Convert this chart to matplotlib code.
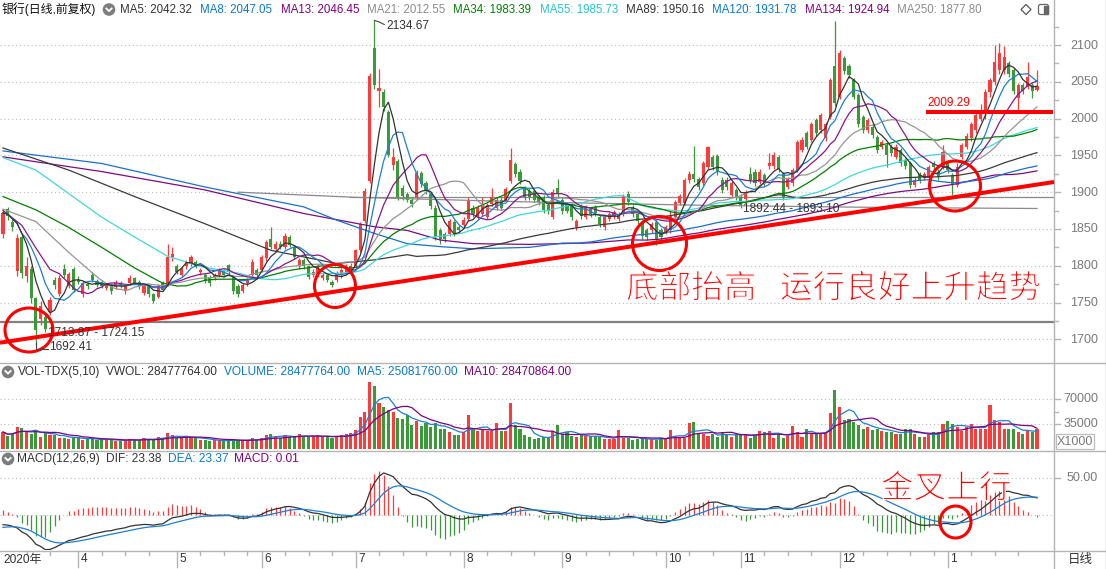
import numpy as np
import pandas as pd
import matplotlib
matplotlib.use("Agg")
import matplotlib.pyplot as plt
import matplotlib.patheffects as pe
from matplotlib.patches import Ellipse, Circle, FancyBboxPatch, Rectangle, Polygon

plt.rcParams['font.family'] = ['Liberation Sans', 'Noto Sans CJK SC', 'DejaVu Sans']

# ---------------- data ----------------
opens = [1843,1877,1860,1793,1839,1786,1796,1756,1728,1731,
         1737,1780,1762,1796,1773,1796,1781,1761,1775,1788,
         1779,1778,1770,1772,1771,1777,1765,1776,1783,1778,
         1763,1772,1761,1758,1776,1774,1812,1799,1788,1799,
         1803,1805,1791,1788,1785,1783,1787,1793,1801,1785,
         1772,1766,1776,1788,1794,1794,1810,1837,1823,1830,
         1826,1839,1826,1799,1808,1799,1788,1788,1783,1787,
         1778,1781,1787,1791,1793,1799,1821,1861,1915,2096,
         2037,2036,2009,1937,1942,1905,1897,1890,1893,1926,
         1912,1897,1879,1848,1843,1843,1859,1852,1855,1864,
         1879,1866,1870,1866,1884,1879,1890,1890,1915,1938,
         1928,1905,1902,1901,1893,1893,1882,1866,1906,1890,
         1884,1882,1852,1881,1866,1877,1880,1866,1852,1864,
         1866,1864,1870,1897,1879,1870,1859,1848,1848,1859,
         1848,1846,1848,1866,1885,1885,1916,1925,1918,1912,
         1934,1948,1949,1917,1917,1896,1903,1894,1891,1925,
         1928,1914,1923,1935,1935,1948,1925,1907,1912,1930,
         1957,1980,1971,1998,1984,1973,2002,2071,2030,2082,
         2071,2052,2032,2002,1984,1989,1975,1962,1964,1962,
         1948,1957,1944,1939,1910,1925,1919,1921,1939,1928,
         1934,1941,1923,1910,1948,1962,1973,1984,2000,2007,
         2036,2050,2066,2066,2075,2066,2028,2046,2043,2046,
         2039]
closes = [1872,1868,1852,1838,1790,1800,1756,1712,1745,1714,
          1753,1774,1784,1787,1789,1767,1778,1776,1772,1781,
          1774,1773,1774,1765,1777,1773,1772,1784,1777,1772,
          1772,1761,1752,1772,1767,1812,1816,1792,1796,1805,
          1812,1799,1794,1779,1776,1787,1794,1788,1792,1765,
          1761,1774,1781,1805,1788,1812,1832,1826,1830,1826,
          1841,1828,1812,1808,1799,1785,1792,1799,1787,1781,
          1774,1790,1794,1798,1800,1821,1857,1902,2058,2045,
          2041,2016,1951,1948,1893,1895,1890,1884,1926,1911,
          1902,1881,1839,1837,1836,1861,1843,1848,1862,1890,
          1870,1879,1884,1882,1893,1890,1879,1904,1944,1925,
          1915,1893,1893,1890,1886,1876,1874,1900,1897,1874,
          1875,1866,1861,1868,1879,1870,1871,1857,1866,1870,
          1873,1870,1895,1886,1870,1861,1841,1839,1857,1837,
          1839,1853,1868,1887,1895,1916,1925,1918,1907,1939,
          1961,1934,1928,1903,1907,1912,1894,1882,1900,1916,
          1912,1928,1912,1939,1950,1932,1894,1918,1930,1968,
          1971,1962,1993,1980,2005,1993,2052,2021,2089,2064,
          2059,2030,1993,1984,1998,1978,1957,1968,1950,1953,
          1962,1939,1935,1910,1917,1916,1925,1934,1934,1921,
          1955,1930,1910,1934,1964,1977,1993,2005,2010,2036,
          2052,2077,2089,2084,2061,2037,2046,2037,2057,2037,
          2044]
highs = [1876,1880,1863,1843,1842,1812,1799,1758,1752,1736,
         1757,1785,1788,1803,1791,1798,1786,1779,1778,1791,
         1782,1780,1777,1775,1780,1779,1774,1787,1785,1780,
         1774,1774,1763,1775,1779,1830,1826,1803,1799,1808,
         1815,1808,1797,1790,1787,1790,1797,1796,1803,1788,
         1775,1777,1784,1809,1797,1815,1835,1852,1833,1833,
         1844,1842,1828,1811,1810,1801,1795,1802,1790,1789,
         1780,1793,1797,1802,1804,1823,1860,1905,2062,2134.67,
         2068,2040,2012,1960,1945,1910,1900,1893,1930,1929,
         1915,1900,1882,1851,1846,1864,1862,1855,1866,1893,
         1882,1882,1893,1885,1906,1893,1893,1907,1960,1941,
         1931,1908,1905,1904,1896,1896,1885,1904,1918,1893,
         1887,1885,1864,1884,1882,1880,1883,1869,1869,1873,
         1876,1873,1898,1902,1882,1873,1862,1851,1860,1862,
         1851,1856,1875,1890,1898,1919,1929,1963,1921,1942,
         1963,1951,1952,1920,1920,1915,1906,1897,1903,1934,
         1931,1931,1926,1953,1955,1951,1928,1921,1933,1971,
         1975,1983,1996,2001,2008,1996,2055,2132,2093,2085,
         2074,2055,2035,2005,2001,1992,1978,1971,1967,1965,
         1965,1960,1947,1942,1920,1928,1928,1937,1942,1931,
         1964,1944,1926,1940,1967,1980,1996,2008,2020,2040,
         2055,2100,2103,2098,2078,2069,2049,2049,2077,2049,
         2066]
lows = [1838,1862,1847,1786,1784,1778,1750,1692.41,1720,1710,
        1733,1769,1759,1784,1770,1764,1775,1757,1768,1778,
        1771,1770,1767,1762,1769,1770,1762,1774,1775,1769,
        1760,1758,1749,1756,1765,1772,1806,1789,1785,1796,
        1800,1797,1788,1776,1773,1780,1785,1785,1789,1762,
        1757,1763,1773,1786,1785,1791,1807,1823,1820,1823,
        1823,1825,1809,1796,1796,1782,1785,1785,1780,1778,
        1771,1778,1784,1788,1790,1796,1818,1858,1912,2040,
        2016,2010,1948,1930,1889,1890,1886,1880,1890,1907,
        1898,1877,1835,1830,1832,1840,1840,1844,1852,1861,
        1866,1863,1867,1863,1881,1876,1876,1887,1912,1921,
        1911,1889,1889,1886,1882,1872,1870,1863,1893,1870,
        1871,1862,1849,1864,1863,1866,1868,1853,1849,1861,
        1863,1861,1867,1882,1866,1857,1837,1835,1845,1828,
        1835,1843,1845,1863,1882,1882,1912,1914,1903,1909,
        1931,1930,1924,1899,1903,1893,1890,1878,1888,1912,
        1908,1911,1908,1932,1932,1928,1890,1904,1909,1927,
        1954,1958,1968,1976,1981,1970,1999,2017,2026,2060,
        2055,2026,1989,1980,1981,1974,1953,1959,1934,1949,
        1945,1935,1931,1906,1907,1912,1916,1918,1930,1917,
        1931,1926,1896,1907,1945,1959,1970,1981,1997,2000,
        2030,2045,2060,2060,2057,2033,2007,2033,2040,2028,
        2037]
# volume, unit: 1000 shares
volumes = [23900,17800,21600,31000,29200,23900,20600,27300,16800,23900,
           19200,19200,15900,15900,14500,15900,16800,12100,13500,14500,
           13000,12500,14000,12500,11500,11000,12000,14500,13000,12000,
           15500,14500,13000,17000,15000,22000,19500,16000,15000,16500,
           17000,15500,13000,12500,11500,12000,11000,11500,12500,14000,
           12000,11500,12000,15500,13000,16000,19000,20500,17500,16000,
           19000,17500,16500,21000,16500,17500,18500,19000,17000,16500,
           15500,18500,19500,21000,22500,27300,45300,52400,93700,88900,
           64300,59500,54800,52000,42900,41500,47600,33500,39100,32200,
           35800,31000,35800,28700,28700,24000,19200,20000,24000,47700,
           27700,25300,27700,25300,25300,35800,24900,25300,64300,33500,
           27700,19200,16800,14500,15900,16800,15900,25300,33500,21600,
           23900,17800,16800,19200,17800,17800,17800,16800,13500,13500,
           14500,26300,15900,15900,12100,13500,15900,13500,13500,12100,
           15900,15900,27300,17800,15900,15900,36700,38200,20600,20600,
           17800,21600,16800,23900,20600,16800,20600,20600,20600,15900,
           19200,25300,23900,25300,15900,20600,15900,18200,32000,23900,
           16800,28700,22500,20600,20600,22500,51000,83200,58600,40600,
           41500,38200,33500,28700,31000,27300,28700,25300,23900,23900,
           20600,20600,27700,27700,21600,16800,16800,20600,23900,23900,
           34800,39100,34800,31000,25300,31000,34800,28700,28700,28700,
           61900,40600,38200,28700,28700,28700,23900,21600,27300,23900,
           28478]

month_start_idx = [16, 37, 55, 75, 98, 119, 141, 157, 178, 201]
month_labels = ['4', '5', '6', '7', '8', '9', '10', '11', '12', '1']
first_label = '2020年'

# early parts of the moving averages (history before the window)
ma13_head = [(0, 1875), (4, 1855), (7, 1824), (10, 1795)]
ma21_head = [(0, 1877), (7, 1860), (14, 1818)]
ma34_head = [(0, 1894), (7, 1876), (14, 1852), (21, 1825), (28, 1797)]
ma55_head = [(0, 1947), (7, 1930), (14, 1898), (21, 1866), (28, 1839), (35, 1813), (42, 1799), (50, 1790)]
ma89_head = [(0, 1960), (14, 1930), (28, 1894), (43, 1857), (57, 1821), (64, 1812), (71, 1803), (79, 1808), (86, 1815)]
ma120_head = [(0, 1956), (21, 1939), (43, 1907), (64, 1880), (71, 1862), (79, 1844), (86, 1830), (93, 1826), (100, 1823), (112, 1825)]
ma134_head = [(0, 1948), (21, 1928), (43, 1903), (64, 1871), (79, 1853), (86, 1848), (93, 1835), (100, 1830), (112, 1829), (125, 1831)]
ma250_pts = [(50, 1900), (75, 1893), (110, 1887), (150, 1882), (190, 1879), (220, 1877.8)]
macd_seed = dict(ema12=1889.0, ema26=1901.0, dea=-17.0)

price_ticks = [1700, 1750, 1800, 1850, 1900, 1950, 2000, 2050, 2100]
vol_ticks = [35000, 70000]
macd_ticks = [0, 50]

header_items = [
    ("MA5: 2042.32", "#333333"), ("MA8: 2047.05", "#0a78d2"), ("MA13: 2046.45", "#800080"),
    ("MA21: 2012.55", "#8c8c8c"), ("MA34: 1983.39", "#008000"), ("MA55: 1985.73", "#22c8c8"),
    ("MA89: 1950.16", "#333333"), ("MA120: 1931.78", "#0a78d2"), ("MA134: 1924.94", "#800080"),
    ("MA250: 1877.80", "#8c8c8c")]
vol_header = [("VOL-TDX(5,10)", "#333333"), ("VWOL: 28477764.00", "#333333"),
              ("VOLUME: 28477764.00", "#0a78d2"), ("MA5: 25081760.00", "#0a78d2"),
              ("MA10: 28470864.00", "#800080")]
macd_header = [("MACD(12,26,9)", "#333333"), ("DIF: 23.38", "#333333"),
               ("DEA: 23.37", "#0a78d2"), ("MACD: 0.01", "#800080")]

# ---------------- layout ----------------
W, H, DPI = 1106, 569, 100
RED, GREEN = '#fe3b3b', '#3a9a3a'
X0PX, STEP, PLOT_R = 3.0, 4.7, 1054
P_Y0, P_REF, P_SCALE = 45.0, 2100.0, 0.7358
V_ZERO, V_SCALE = 449.0, 25.0 / 35000
M_ZERO, M_SCALE = 515.3, 0.752

N = len(closes)
o = np.array(opens, float); c = np.array(closes, float)
h = np.maximum(np.array(highs, float), np.maximum(o, c))
l = np.minimum(np.array(lows, float), np.minimum(o, c))
v = np.array(volumes, float)
idx = np.arange(N)
up = c >= o
col = np.where(up, RED, GREEN)

fig = plt.figure(figsize=(W / DPI, H / DPI), dpi=DPI)
fig.patch.set_facecolor('white')


def add_ax(x0, y0, x1, y1, **kw):
    ax = fig.add_axes([x0 / W, 1 - y1 / H, (x1 - x0) / W, (y1 - y0) / H], **kw)
    ax.axis('off')
    ax.set_xlim(-X0PX / STEP, (PLOT_R - X0PX) / STEP)
    return ax


def price_y(p):
    return P_Y0 + (P_REF - p) * P_SCALE


def price_at(y):
    return P_REF - (y - P_Y0) / P_SCALE


# ---------------- price panel ----------------
axp = add_ax(0, 20, PLOT_R, 362)
axp.set_ylim(price_at(362), price_at(20))
for p in price_ticks:
    axp.axhline(p, color='#bdbdbd', lw=0.8, ls=(0, (1, 2.5)), zorder=1)
axp.axhline(1723.6, color='#808080', lw=1.6, zorder=2)
axp.plot([(350 - X0PX) / STEP, (PLOT_R - X0PX) / STEP], [1893, 1893], color='#8a8a8a', lw=0.9, zorder=2)

axp.vlines(idx, l, h, colors=col, lw=0.9, zorder=3)
axp.bar(idx, np.maximum(np.abs(c - o), 0.8), bottom=np.minimum(o, c), width=0.66,
        color=col, lw=0, zorder=4)

cs = pd.Series(c)


def ma_line(w, head=None, minp=None):
    roll = cs.rolling(w, min_periods=minp or w).mean().to_numpy()
    xs, ys = [], []
    if head:
        for i, val in head:
            if i < w - 1:
                xs.append(i); ys.append(val)
    start = 0 if minp else w - 1
    for i in range(start, N):
        xs.append(i); ys.append(roll[i])
    return xs, ys


ma_specs = [
    (250, None, '#8a8a8a'), (134, ma134_head, '#7d0b80'), (120, ma120_head, '#1a6fd0'),
    (89, ma89_head, '#3a3a3a'), (55, ma55_head, '#3fd8d8'), (34, ma34_head, '#008000'),
    (21, ma21_head, '#959595'), (13, ma13_head, '#8a168a'), (8, None, '#1c7fd6'), (5, None, '#333333')]
for w, head, colr in ma_specs:
    if w == 250:
        xs = [p[0] for p in ma250_pts]; ys = [p[1] for p in ma250_pts]
    elif head is None:
        xs, ys = ma_line(w, minp=1)
    else:
        xs, ys = ma_line(w, head)
    axp.plot(xs, ys, color=colr, lw=0.9, zorder=5)

# ---------------- volume panel ----------------
axv = add_ax(0, 363, PLOT_R, 450)
axv.set_ylim(-(450 - V_ZERO) / V_SCALE, (V_ZERO - 363) / V_SCALE)
for t in vol_ticks:
    axv.axhline(t, color='#bdbdbd', lw=0.8, ls=(0, (1, 2.5)), zorder=1)
axv.bar(idx, v, width=0.66, color=col, lw=0, zorder=3)
vs = pd.Series(v)
axv.plot(idx, vs.rolling(5, min_periods=1).mean(), color='#1c7fd6', lw=0.9, zorder=4)
axv.plot(idx, vs.rolling(10, min_periods=1).mean(), color='#800080', lw=0.9, zorder=4)

# ---------------- MACD panel ----------------
axm = add_ax(0, 451, PLOT_R, 550)
axm.set_ylim(-(550 - M_ZERO) / M_SCALE, (M_ZERO - 451) / M_SCALE)
for t in macd_ticks:
    axm.axhline(t, color='#bdbdbd', lw=0.8, ls=(0, (1, 2.5)), zorder=1)
e12, e26, dea = macd_seed['ema12'], macd_seed['ema26'], macd_seed['dea']
difs, deas = [], []
for cl in c:
    e12 = e12 * 11 / 13 + cl * 2 / 13
    e26 = e26 * 25 / 27 + cl * 2 / 27
    d = e12 - e26
    dea = dea * 0.8 + d * 0.2
    difs.append(d); deas.append(dea)
difs = np.array(difs); deas = np.array(deas)
hist = 2 * (difs - deas)
axm.vlines(idx, 0, hist, colors=np.where(hist >= 0, RED, GREEN), lw=0.9, zorder=2)
axm.plot(idx, difs, color='#333333', lw=0.9, zorder=3)
axm.plot(idx, deas, color='#1c7fd6', lw=0.9, zorder=3)

# ---------------- overlay (frame, labels, annotations) ----------------
ov = fig.add_axes([0, 0, 1, 1], zorder=10)
ov.set_xlim(0, W); ov.set_ylim(H, 0); ov.axis('off'); ov.patch.set_alpha(0)

line_c = '#b4b4b4'
for yy in (362.5, 450.5, 550.5):
    ov.plot([0, W], [yy, yy], color=line_c, lw=1)
ov.plot([1054, 1054], [0, H], color=line_c, lw=1)
ov.plot([1105.5, 1105.5], [0, H], color=line_c, lw=1)

FS = 8.6


def icon(x, y):
    ov.add_patch(Circle((x, y), 5.6, color='#7d7d7d', zorder=11))
    ov.plot([x - 2.6, x, x + 2.6], [y - 1.0, y + 1.6, y - 1.0], color='white', lw=1.3, zorder=12)


# price header: items laid out left to right, evenly spaced between 120.5 and 982 px
ov.text(1.5, 9.5, '银行(日线,前复权)', fontsize=FS, color='#111111', va='center', ha='left')
icon(109, 9.5)
renderer = fig.canvas.get_renderer()
h_texts = [ov.text(0, 9.5, txt, fontsize=8.3, color=cc, va='center', ha='left')
           for txt, cc in header_items]
h_w = [t.get_window_extent(renderer).width for t in h_texts]
HX0, HX1 = 120.5, 982.0
gap = (HX1 - HX0 - sum(h_w)) / (len(h_w) - 1)
xx = HX0
for t, wd in zip(h_texts, h_w):
    t.set_x(xx)
    xx += wd + gap
ov.add_patch(Polygon([[1026, 4.5], [1031, 9.5], [1026, 14.5], [1021, 9.5]], closed=True,
                     fill=False, ec='#555555', lw=0.9))
ov.add_patch(FancyBboxPatch((1038.5, 4.5), 10, 10, boxstyle='round,pad=0,rounding_size=2',
                            fill=False, ec='#666666', lw=0.9))
ov.add_patch(Rectangle((1043.5, 5.5), 4, 8, color='#666666'))

# volume header
icon(8, 372)
for (txt, cc), xx in zip(vol_header, [17.5, 106.5, 224, 357, 464]):
    ov.text(xx, 372, txt, fontsize=FS, color=cc, va='center', ha='left')
# macd header
icon(8, 459)
for (txt, cc), xx in zip(macd_header, [17.5, 106.5, 168, 234]):
    ov.text(xx, 459, txt, fontsize=FS, color=cc, va='center', ha='left')

# right price axis
for p in price_ticks:
    yy = price_y(p)
    ov.plot([1054, 1060], [yy, yy], color=line_c, lw=1)
    ov.text(1098, yy + 0.5, f'{p}', fontsize=9, color='#7a7a7a', va='center', ha='right')
    ym = price_y(p + 25)
    if ym > 21:
        ov.plot([1054, 1057.5], [ym, ym], color=line_c, lw=1)
# volume axis
for t in vol_ticks:
    yy = V_ZERO - t * V_SCALE
    ov.plot([1054, 1060], [yy, yy], color=line_c, lw=1)
    ov.text(1098, yy, f'{t}', fontsize=9, color='#7a7a7a', va='center', ha='right')
ov.plot([1054, 1057.5], [V_ZERO - 52500 * V_SCALE] * 2, color=line_c, lw=1)
ov.add_patch(Rectangle((1056, 434), 38, 15, fill=False, ec='#bdbdbd', lw=0.9))
ov.text(1075, 441.5, 'X1000', fontsize=9, color='#7a7a7a', va='center', ha='center')
# macd axis
yy = M_ZERO - 50 * M_SCALE
ov.plot([1054, 1060], [yy, yy], color=line_c, lw=1)
ov.text(1098, yy, '50.00', fontsize=9, color='#7a7a7a', va='center', ha='right')

# date axis
ov.text(3, 559.5, first_label, fontsize=FS, color='#333333', va='center', ha='left')
for k, (mi, lab) in enumerate(zip(month_start_idx, month_labels)):
    xx = X0PX + STEP * mi
    ov.plot([xx, xx], [551, 567], color=line_c, lw=1)
    ov.text(xx + 2.5, 559.5, lab, fontsize=FS, color='#333333', va='center', ha='left')
    nxt = month_start_idx[k + 1] if k + 1 < len(month_start_idx) else N
    for j in range(mi + 5, nxt - 1, 5):
        xj = X0PX + STEP * j
        ov.plot([xj, xj], [551, 555], color=line_c, lw=1)
for j in range(5, month_start_idx[0] - 1, 5):
    xj = X0PX + STEP * j
    ov.plot([xj, xj], [551, 555], color=line_c, lw=1)
ov.text(1080, 560, '日线', fontsize=9, color='#333333', va='center', ha='center')

# price annotations
ix_hi = int(np.argmax(h)); ix_lo = int(np.argmin(l))
xh = X0PX + STEP * ix_hi
ov.plot([xh + 0.5, xh + 5, xh + 10], [20.5, 22, 24.5], color='#444444', lw=0.8)
ov.text(xh + 12, 25.5, f'{h[ix_hi]:.2f}', fontsize=8.6, color='#333333', va='center', ha='left')
xl = X0PX + STEP * ix_lo
ov.plot([xl, xl, xl + 12], [343, 349, 349], color='#444444', lw=0.8)
ov.text(xl + 13, 347, f'{l[ix_lo]:.2f}', fontsize=8.6, color='#333333', va='center', ha='left')
ov.text(48, 332.5, '1713.87 - 1724.15', fontsize=8.6, color='#333333', va='center', ha='left')
ov.text(743, 208.5, '1892.44 - 1893.10', fontsize=8.6, color='#333333', va='center', ha='left')

# red hand-drawn annotations
RR = '#ff0000'
ov.plot([0, 1054], [342.7, 182], color=RR, lw=2.9, solid_capstyle='butt')
ov.plot([926, 1053], [112, 112], color=RR, lw=2.9, solid_capstyle='butt')
ov.text(927, 102.5, '2009.29', fontsize=8.6, color=RR, va='center', ha='left')
for (cx, cy, ew, eh) in [(29, 330, 48, 44), (335, 286, 41, 43), (659.5, 243.5, 54, 54),
                         (955, 186, 51, 50), (955.5, 522, 31, 32)]:
    ov.add_patch(Ellipse((cx, cy), ew, eh, fill=False, ec=RR, lw=2.2))
thin = [pe.Normal(), pe.Stroke(linewidth=0.9, foreground='white')]
for txt, xx, yy in [('底部抬高', 626, 289), ('运行良好上升趋势', 780, 289), ('金叉上行', 881, 489)]:
    ov.text(xx, yy, txt, fontsize=23.5, color=RR, va='center', ha='left',
            family=['Noto Sans CJK SC'], path_effects=thin)

fig.savefig('out.png', dpi=DPI, facecolor='white')
